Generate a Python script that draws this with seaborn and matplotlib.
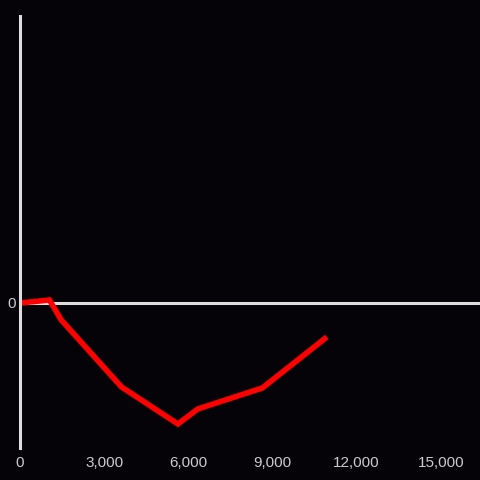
import matplotlib
matplotlib.use('Agg')
import matplotlib.pyplot as plt
import matplotlib.ticker as mticker
import seaborn as sns
import pandas as pd

# data
distance = [0, 1050, 1470, 3620, 5630, 6340, 8640, 10940]
value = [0, 30, -170, -840, -1210, -1060, -850, -340]
x_ticks = [0, 3000, 6000, 9000, 12000, 15000]

df = pd.DataFrame({'distance': distance, 'value': value})

bg = '#050308'
axis_col = '#dddddd'

sns.set_style('dark')
plt.rcParams['font.family'] = ['Liberation Sans', 'DejaVu Sans']

fig = plt.figure(figsize=(4.8, 4.8), dpi=100, facecolor=bg)
ax = fig.add_axes([0.0417, 0.0667, 0.9583, 0.9])
ax.set_facecolor(bg)

sns.lineplot(data=df, x='distance', y='value', color='#ff0000', linewidth=4,
             ax=ax, solid_joinstyle='miter', solid_capstyle='butt')
ax.axhline(0, color=axis_col, linewidth=2.2, zorder=1)

ax.set_xlim(0, 16400)
ax.set_ylim(-1450, 2870)
ax.set_xticks(x_ticks)
ax.xaxis.set_major_formatter(mticker.FuncFormatter(lambda v, p: f'{int(v):,}'))
ax.set_yticks([0])
ax.tick_params(colors='#cccccc', labelsize=11, length=0, pad=6)
ax.tick_params(axis='y', pad=3)
ax.grid(False)
ax.set_xlabel('')
ax.set_ylabel('')

for side in ['top', 'right', 'bottom']:
    ax.spines[side].set_visible(False)
ax.spines['left'].set_color(axis_col)
ax.spines['left'].set_linewidth(2.2)

fig.savefig('out.png', dpi=100, facecolor=bg)
plt.close()
